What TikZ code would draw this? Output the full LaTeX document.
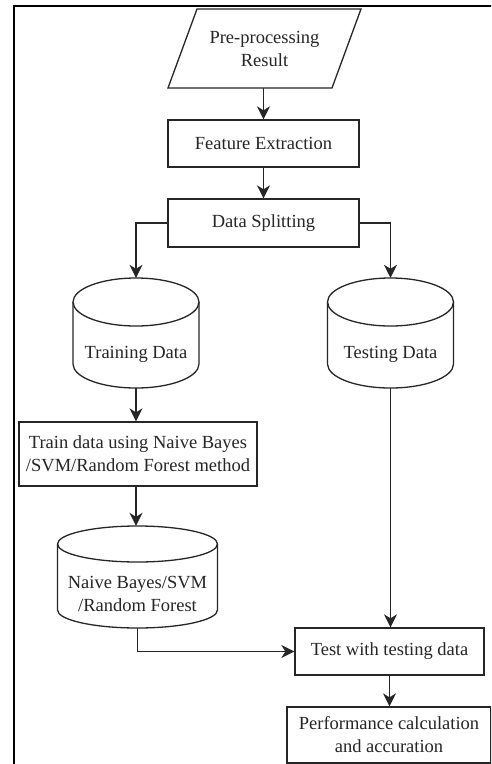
\documentclass[tikz,border=0pt]{standalone}
\usepackage{fontspec}
\setmainfont{Liberation Serif}
\usetikzlibrary{arrows.meta}
\tikzset{
  shapeline/.style={draw=black!85, line width=1.3pt},
  procbox/.style={shapeline, rectangle, inner sep=0pt, align=center, text=black!85,
    font=\fontsize{18.5}{23}\selectfont},
  anchorbox/.style={rectangle, inner sep=0pt, draw=none},
  label/.style={inner sep=0pt, align=center, text=black!85, font=\fontsize{18.5}{23}\selectfont},
  flow/.style={draw=black!85, line width=1.4pt, -{Stealth[length=13pt,width=13pt,inset=4pt]}}
}
\begin{document}
\begin{tikzpicture}[x=1pt,y=-1pt]
\useasboundingbox (0,0) rectangle (491,764);
\clip (0,0) rectangle (491,764);
\fill[white] (0,0) rectangle (491,764);
% outer frame
\draw[line width=2.5pt] (14,6) rectangle (520,800);

% input parallelogram
\draw[shapeline] (168,88) -- (197,9) -- (361,9) -- (332,88) -- cycle;
\node[anchorbox, minimum width=164pt, minimum height=79pt] (pre) at (264.5,48.5) {};
\node[label] at (264.5,49) {Pre-processing\\Result};

% process steps
\node[procbox, minimum width=191pt, minimum height=47pt] (feat) at (263.5,143.5) {Feature Extraction};
\node[procbox, minimum width=191pt, minimum height=48pt] (split) at (263.5,223) {Data Splitting};

% training data store
\draw[shapeline] (73,302) -- (73,364) arc[start angle=180,end angle=360,x radius=63pt,y radius=24pt] -- (199,302);
\draw[shapeline] (136,302) ellipse [x radius=63pt, y radius=24pt];
\node[anchorbox, minimum width=126pt, minimum height=110pt] (trn) at (136,333) {};
\node[label] at (136,354) {Training Data};

% testing data store
\draw[shapeline] (327.5,302) -- (327.5,364) arc[start angle=180,end angle=360,x radius=63pt,y radius=24pt] -- (453.5,302);
\draw[shapeline] (390.5,302) ellipse [x radius=63pt, y radius=24pt];
\node[anchorbox, minimum width=126pt, minimum height=110pt] (tst) at (390.5,333) {};
\node[label] at (390.5,354) {Testing Data};

% training step
\node[procbox, minimum width=238pt, minimum height=64pt] (train) at (138,454)
  {Train data using Naive Bayes\\/SVM/Random Forest method};

% model store
\draw[shapeline] (57.5,544) -- (57.5,610) arc[start angle=180,end angle=360,x radius=80pt,y radius=18pt] -- (217.5,544);
\draw[shapeline] (137.5,544) ellipse [x radius=80pt, y radius=18pt];
\node[anchorbox, minimum width=160pt, minimum height=102pt] (model) at (137.5,577) {};
\node[label] at (137.5,594) {Naive Bayes/SVM\\/Random Forest};

% evaluation
\node[procbox, minimum width=189pt, minimum height=47pt] (test) at (389.5,651.5) {Test with testing data};
\node[procbox, minimum width=204pt, minimum height=56pt] (perf) at (389,735)
  {Performance calculation\\and accuration};

% connectors
\draw[flow] (pre.south -| feat.north) -- (feat.north);
\draw[flow] (feat.south) -- (split.north);
\draw[flow] (split.west) -| (trn.north);
\draw[flow] (split.east) -| (tst.north);
\draw[flow] (trn.south) -- (trn.south |- train.north);
\draw[flow] (trn.south |- train.south) -- (model.north -| trn.south);
\draw[flow] (tst.south) -- (tst.south |- test.north);
\draw[flow] (model.south) |- (test.west);
\draw[flow] (test.south) -- (test.south |- perf.north);
\end{tikzpicture}
\end{document}
